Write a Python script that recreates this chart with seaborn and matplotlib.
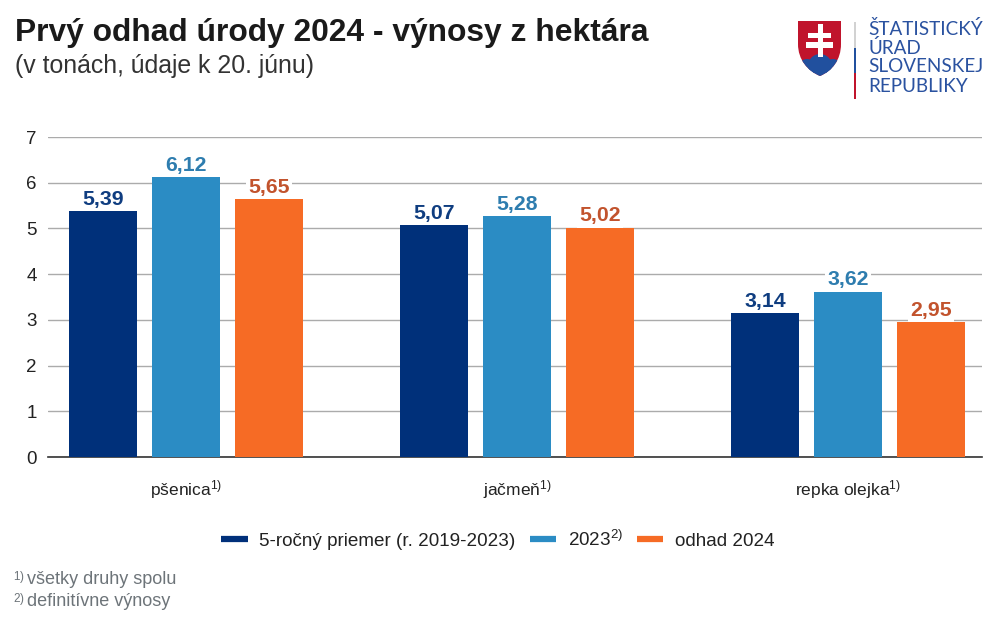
# plot.py - prvy odhad urody 2024

import matplotlib
matplotlib.use("Agg")
import matplotlib.pyplot as plt
import pandas as pd
import seaborn as sns
from matplotlib.lines import Line2D
from matplotlib.patches import Circle, PathPatch, Rectangle
from matplotlib.path import Path

categories = ["pšenica$^{1)}$", "jačmeň$^{1)}$", "repka olejka$^{1)}$"]
series_names = ["5-ročný priemer (r. 2019-2023)", "2023$^{2)}$", "odhad 2024"]
priemer = [5.39, 5.07, 3.14]
rok_2023 = [6.12, 5.28, 3.62]
odhad_2024 = [5.65, 5.02, 2.95]
y_ticks = [0, 1, 2, 3, 4, 5, 6, 7]

bar_colors = ["#00307A", "#2B8CC4", "#F66B25"]
label_colors = ["#0F3D80", "#2E7DAF", "#C2532D"]

sns.set_theme(style="white")
plt.rcParams["font.family"] = ["Liberation Sans", "DejaVu Sans"]
plt.rcParams["mathtext.fontset"] = "custom"
plt.rcParams["mathtext.rm"] = "Liberation Sans"
plt.rcParams["mathtext.default"] = "rm"

df = pd.DataFrame({
    "plodina": categories * 3,
    "rad": [s for s in series_names for _ in categories],
    "vynos": priemer + rok_2023 + odhad_2024,
})

fig = plt.figure(figsize=(10.08, 6.18), dpi=100)
ax = fig.add_axes([48 / 1008, 1 - 457 / 618, 934 / 1008, 320 / 618])

sns.barplot(data=df, x="plodina", y="vynos", hue="rad", palette=bar_colors,
            width=0.75, gap=0.18, saturation=1, linewidth=0, legend=False, ax=ax, zorder=3)

ax.set_xlim(-0.417, 2.405)
ax.set_ylim(0, 7)
ax.set_yticks(y_ticks)
ax.set_xlabel("")
ax.set_ylabel("")
ax.grid(axis="y", color="#ABABAB", lw=1, zorder=0)
ax.set_axisbelow(True)
sns.despine(ax=ax, left=True, right=True, top=True)
ax.spines["bottom"].set_color("#333333")
ax.spines["bottom"].set_linewidth(1.2)
ax.tick_params(axis="y", length=0, pad=8, labelsize=13.5, labelcolor="#222222")
ax.tick_params(axis="x", length=0, pad=15, labelsize=12.5, labelcolor="#222222")

# hodnoty nad stlpcami, s bielym podkladom cez mriezku
for container, col in zip(ax.containers, label_colors):
    labels = [f"{v:.2f}".replace(".", ",") for v in container.datavalues]
    texts = ax.bar_label(container, labels=labels, padding=1.5, color=col,
                         fontsize=15.3, fontweight="bold", zorder=4)
    for t in texts:
        t.set_bbox(dict(facecolor="white", edgecolor="none", pad=1.5))

handles = [Line2D([], [], color=c, lw=4.5, solid_capstyle="butt") for c in bar_colors]
fig.legend(handles, series_names, loc="center", bbox_to_anchor=(498 / 1008, 1 - 540 / 618),
           ncol=3, frameon=False, fontsize=13.6, labelcolor="#222222", handlelength=1.38,
           handletextpad=0.63, columnspacing=0.75)

# hlavicka a poznamky v pixeloch obrazka
page = fig.add_axes([0, 0, 1, 1], zorder=-1)
page.set_xlim(0, 1008)
page.set_ylim(618, 0)
page.axis("off")
page.text(15, 33, "Prvý odhad úrody 2024 - výnosy z hektára", fontsize=22.9, fontweight="bold",
          color="#1A1A1A", va="center")
page.text(15, 66, "(v tonách, údaje k 20. júnu)", fontsize=17.9, color="#333333", va="center")
for y, sup, note in [(584, "$^{1)}$", "všetky druhy spolu"), (606, "$^{2)}$", "definitívne výnosy")]:
    page.text(13, y, sup, fontsize=12, color="#6D7479", va="baseline")
    page.text(27, y, note, fontsize=13, color="#6D7479", va="baseline")

# logo
shield = Path(
    [(798, 21), (841, 21), (841, 44), (841, 60), (832, 71), (820, 76),
     (808, 71), (798, 60), (798, 44), (798, 21)],
    [Path.MOVETO, Path.LINETO, Path.LINETO, Path.CURVE4, Path.CURVE4, Path.CURVE4,
     Path.CURVE4, Path.CURVE4, Path.CURVE4, Path.CLOSEPOLY],
)
shield_patch = PathPatch(shield, facecolor="#C0142C", edgecolor="none")
page.add_patch(shield_patch)
for cx, cy, r in [(820, 66, 12), (807, 68, 9), (833, 68, 9)]:
    hill = Circle((cx, cy), r, facecolor="#21509E", edgecolor="none")
    page.add_patch(hill)
    hill.set_clip_path(shield_patch)
for x, y, w, h in [(817.5, 24, 5, 33), (808, 33, 23, 5), (806, 42, 27, 6)]:
    page.add_patch(Rectangle((x, y), w, h, facecolor="white", edgecolor="none"))
for y, h, c in [(22, 26, "#D2D2D2"), (48, 25, "#21509E"), (73, 26, "#C0142C")]:
    page.add_patch(Rectangle((854, y), 2, h, facecolor=c, edgecolor="none"))
for y, line in zip([29, 48, 67, 86], ["ŠTATISTICKÝ", "ÚRAD", "SLOVENSKEJ", "REPUBLIKY"]):
    page.text(868, y, line, fontsize=13.6, family="Lato", color="#2A52A0", va="center")

fig.savefig("out.png", dpi=100)
